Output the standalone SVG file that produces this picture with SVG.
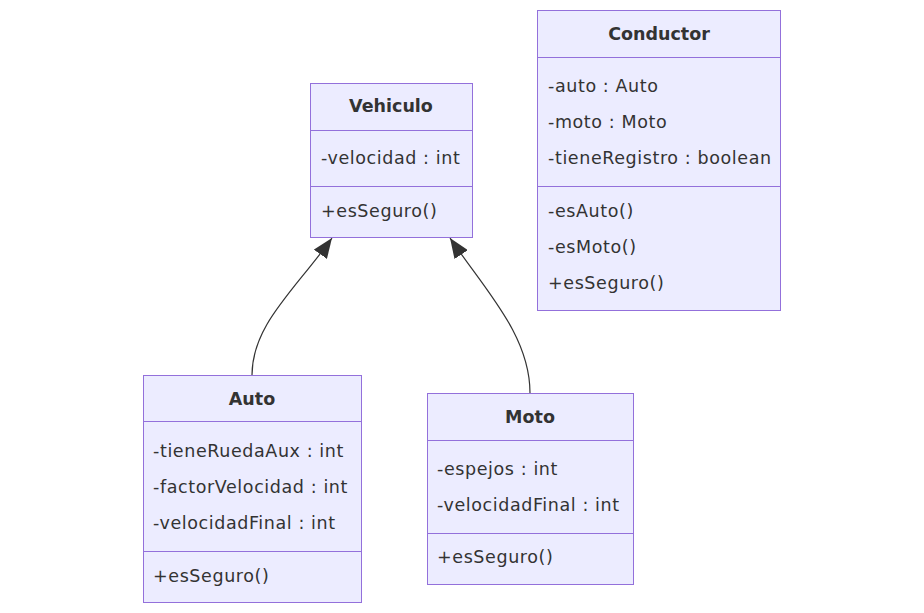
<svg xmlns="http://www.w3.org/2000/svg" width="924" height="613" viewBox="0 0 924 613">
<style>
.box{fill:#ECECFF;stroke:#9370DB;stroke-width:1}
.div{stroke:#9370DB;stroke-width:1}
text{font-family:"DejaVu Sans","Liberation Sans",sans-serif;font-size:17.5px;letter-spacing:0.6px;fill:#333;dominant-baseline:central}
.title{font-weight:bold;text-anchor:middle;letter-spacing:0}
.edge{fill:none;stroke:#333;stroke-width:1.2}
</style>
<defs>
<marker id="tri" viewBox="0 0 20 16" refX="20" refY="8" markerWidth="20" markerHeight="16" markerUnits="userSpaceOnUse" orient="auto">
<path d="M0,0 L20,8 L0,16 z" fill="#333"/>
</marker>
</defs>
<rect width="924" height="613" fill="#fff"/>
<g id="edges">
<path class="edge" d="M252,375 C252,325 295,290 332,238" marker-end="url(#tri)"/>
<path class="edge" d="M530,393 C530,335 485,290 450,238" marker-end="url(#tri)"/>
</g>
<g id="Vehiculo">
<rect class="box" x="310.5" y="83.5" width="162" height="154"/>
<line class="div" x1="310.5" y1="130.5" x2="472.5" y2="130.5"/>
<line class="div" x1="310.5" y1="186.5" x2="472.5" y2="186.5"/>
<text class="title" x="391" y="106">Vehiculo</text>
<text x="321" y="158">-velocidad : int</text>
<text x="321" y="211">+esSeguro()</text>
</g>
<g id="Conductor">
<rect class="box" x="537.5" y="10.5" width="243" height="300"/>
<line class="div" x1="537.5" y1="57.5" x2="780.5" y2="57.5"/>
<line class="div" x1="537.5" y1="186.5" x2="780.5" y2="186.5"/>
<text class="title" x="659" y="34">Conductor</text>
<text x="548" y="86">-auto : Auto</text>
<text x="548" y="122">-moto : Moto</text>
<text x="548" y="158">-tieneRegistro : boolean</text>
<text x="548" y="211">-esAuto()</text>
<text x="548" y="247">-esMoto()</text>
<text x="548" y="283">+esSeguro()</text>
</g>
<g id="Auto">
<rect class="box" x="143.5" y="375.5" width="218" height="227"/>
<line class="div" x1="143.5" y1="421.5" x2="361.5" y2="421.5"/>
<line class="div" x1="143.5" y1="551.5" x2="361.5" y2="551.5"/>
<text class="title" x="252" y="399">Auto</text>
<text x="153" y="451">-tieneRuedaAux : int</text>
<text x="153" y="487">-factorVelocidad : int</text>
<text x="153" y="523">-velocidadFinal : int</text>
<text x="153" y="576">+esSeguro()</text>
</g>
<g id="Moto">
<rect class="box" x="427.5" y="393.5" width="206" height="191"/>
<line class="div" x1="427.5" y1="440.5" x2="633.5" y2="440.5"/>
<line class="div" x1="427.5" y1="533.5" x2="633.5" y2="533.5"/>
<text class="title" x="530" y="417">Moto</text>
<text x="437" y="469">-espejos : int</text>
<text x="437" y="505">-velocidadFinal : int</text>
<text x="437" y="557">+esSeguro()</text>
</g>
</svg>
